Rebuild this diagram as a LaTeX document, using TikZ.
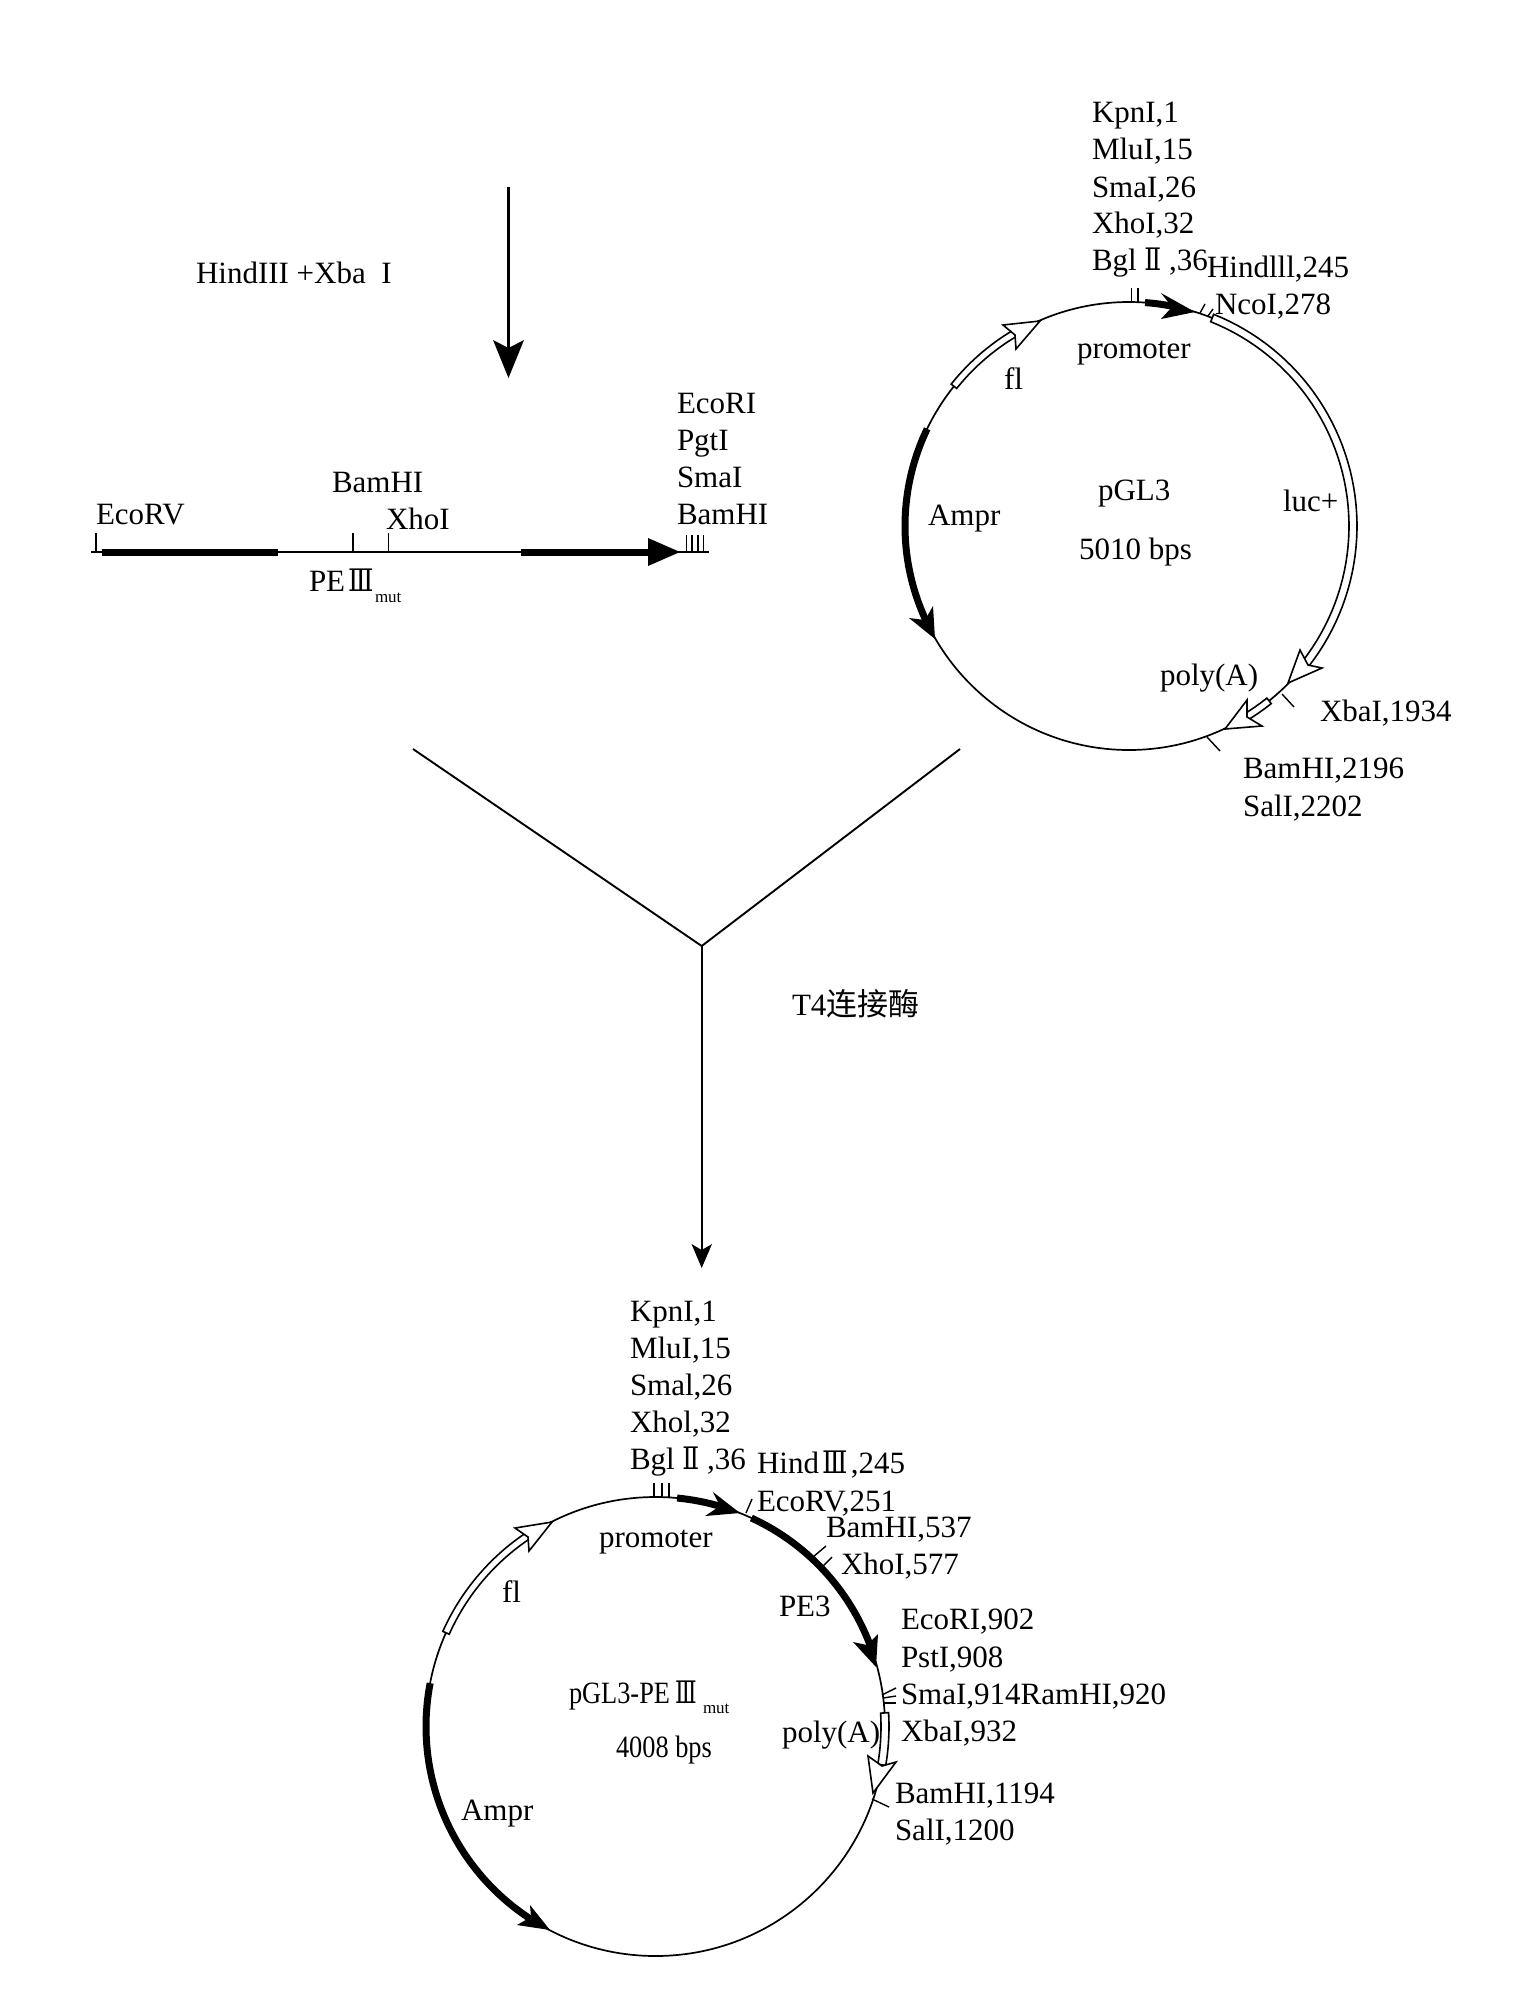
\documentclass[tikz,border=0pt]{standalone}
\usepackage{fontspec}
\setmainfont{Liberation Serif}
\newfontfamily\cjk{Noto Sans CJK SC}
\newfontfamily\rmfont{DejaVu Serif}
\newcommand{\rmII}{\kern7.5pt\scalebox{.8}[1]{\rmfont Ⅱ}\kern8pt}
\newcommand{\rmIII}{\kern3pt\scalebox{.85}[1]{\rmfont Ⅲ}\kern3.5pt}
% arc along a circle: [style]{cx}{cy}{r}{from}{to}
\newcommand{\ringarc}[6][]{\draw[#1] plot[domain=#5:#6,samples=50] ({#2+#4*cos(\x)},{#3-#4*sin(\x)});}
% closed ring band: [style]{cx}{cy}{r}{half width}{from}{to}
\newcommand{\ringband}[7][]{\draw[#1] plot[domain=#6:#7,samples=50] ({#2+(#4+#5)*cos(\x)},{#3-(#4+#5)*sin(\x)}) -- plot[domain=#7:#6,samples=50] ({#2+(#4-#5)*cos(\x)},{#3-(#4-#5)*sin(\x)}) -- cycle;}
\tikzset{
  x=1pt,y=-1pt,
  thinline/.style={line width=1.9pt,black},
  tick/.style={line width=1.4pt,black},
  thickarc/.style={line width=7pt,black},
  whiteband/.style={line width=1.6pt,black,fill=white,line join=miter},
  whitehead/.style={line width=1.6pt,black,fill=white,line join=miter},
  blackhead/.style={fill=black,draw=none},
  lab/.style={anchor=base west,inner sep=0pt,outer sep=0pt,font=\fontsize{31}{37}\selectfont,text=black},
  sublab/.style={anchor=base west,inner sep=0pt,outer sep=0pt,font=\fontsize{17}{20}\selectfont,text=black},
  plasmid/.style={circle,draw=black,line width=1.7pt,inner sep=0pt,outer sep=0pt},
}
\begin{document}
\begin{tikzpicture}
\useasboundingbox (0,0) rectangle (1536,1989);
\fill[white] (0,0) rectangle (1536,1989);

% --- top arrow and its label
\coordinate (topA) at (508.5,187);
\coordinate (topB) at (508.5,352);
\draw[line width=2.6pt,black] (topA) -- (topB);
\fill (508.5,378) -- (493,340) -- (508.5,348) -- (524,340) -- cycle;
\node[lab] (hx) at (196,283) {HindIII +Xba\ \ I};

% --- linear fragment
\coordinate (linL) at (91,552);
\coordinate (linR) at (709,552);
\draw[thinline] (linL) -- (linR);
\draw[thickarc] (101.5,552) -- (278,552);
\draw[thickarc] (521,552) -- (653,552);
\fill (680,552) -- (648,538) -- (648,566) -- cycle;
\draw[tick] (96,533) -- (96,552);
\draw[tick] (353,533) -- (353,552);
\draw[tick] (388.5,533) -- (388.5,552);
\foreach \tx in {686.5,692,698,703.5} \draw[tick] (\tx,535) -- (\tx,552);
\node[lab] (lEcoRV) at (96,524) {EcoRV};
\node[lab] (lBam) at (332,492) {BamHI};
\node[lab] (lXho) at (386,529) {XhoI};
\node[lab] (lPE) at (309,591) {PE\rmIII};
\node[sublab] (lmut) at (375,602) {mut};
\node[lab] (r1) at (677,413) {EcoRI};
\node[lab] (r2) at (677,450) {PgtI};
\node[lab] (r3) at (677,487) {SmaI};
\node[lab] (r4) at (677,524) {BamHI};

% --- plasmid pGL3
\node[plasmid,minimum size=448pt] (pA) at (1129,526) {};
% promoter
\ringarc[thickarc]{1129}{526}{224}{85.9}{78}
\fill[blackhead] (1195,312) -- (1161,293) -- (1172,307) -- (1161,319) -- cycle;
% luc+
\ringband[whiteband]{1129}{526}{224}{4}{68.2}{-37.8}
\draw[whitehead] (1288,683) -- (1300,650) -- (1308,665) -- (1322,668) -- cycle;
% poly(A)
\ringband[whiteband]{1129}{526}{224}{3.5}{-51.3}{-58.3}
\draw[whitehead] (1225,729) -- (1247,700) -- (1247,717) -- (1262,726) -- cycle;
% fl
\ringband[whiteband]{1129}{526}{224}{3.5}{141.4}{120.8}
\draw[whitehead] (1040,321) -- (1003,325) -- (1015,335) -- (1016,349) -- cycle;
% Ampr
\ringarc[thickarc]{1129}{526}{224}{154.3}{206}
\fill[blackhead] (935,639) -- (909,618) -- (925,620) -- (933,606) -- cycle;
% ticks
\draw[tick] (1131.7,302) -- (1131.7,288);
\draw[tick] (1138,302) -- (1138,288);
\draw[tick] (1200,313) -- (1205,304);
\draw[tick] (1208,316) -- (1213,309);
\draw[tick] (1282,694) -- (1294,707);
\draw[tick] (1207,737) -- (1220,751);
% labels
\node[lab] at (1092,122) {KpnI,1};
\node[lab] at (1092,159) {MluI,15};
\node[lab] at (1092,197) {SmaI,26};
\node[lab] at (1092,233) {XhoI,32};
\node[lab] at (1092,270) {Bgl\rmII,36};
\node[lab] at (1207,277) {Hindlll,245};
\node[lab] at (1215,314) {NcoI,278};
\node[lab] at (1077,358) {promoter};
\node[lab] at (1004,389) {fl};
\node[lab] at (1098,500) {pGL3};
\node[lab] at (1079,559) {5010 bps};
\node[lab] at (928,525) {Ampr};
\node[lab] at (1283,511) {luc+};
\node[lab] at (1160,685) {poly(A)};
\node[lab] at (1320,721) {XbaI,1934};
\node[lab] at (1243,778) {BamHI,2196};
\node[lab] at (1243,816) {SalI,2202};

% --- ligation fork
\coordinate (fa) at (413,749);
\coordinate (fb) at (960,749);
\coordinate (fc) at (701.7,946);
\coordinate (fd) at (701.7,1252);
\draw[thinline] (fa) -- (fc) -- (fb);
\draw[thinline] (fc) -- (fd);
\fill (701.7,1268) -- (691.5,1244) -- (701.7,1250) -- (712,1244) -- cycle;
\node[lab] (t4) at (792,1015) {T4{\cjk 连接酶}};

% --- plasmid pGL3-PE III mut
\node[plasmid,minimum size=459pt] (pB) at (655.5,1726.5) {};
% promoter
\ringarc[thickarc]{655.5}{1726.5}{229.5}{84.6}{73}
\fill[blackhead] (740,1513) -- (713,1492) -- (720,1506) -- (705,1516) -- cycle;
% PE3
\ringarc[thickarc]{655.5}{1726.5}{229.5}{65.3}{20}
\fill[blackhead] (876,1667) -- (853,1642) -- (867,1645) -- (878,1634) -- cycle;
% poly(A)
\ringband[whiteband]{655.5}{1726.5}{229.5}{4}{3.4}{-9.6}
\draw[whitehead] (873,1793) -- (868,1756) -- (882,1766) -- (896,1762) -- cycle;
% fl
\ringband[whiteband]{655.5}{1726.5}{229.5}{3.5}{155.9}{123.9}
\draw[whitehead] (552,1522) -- (515,1528) -- (528,1537) -- (529,1551) -- cycle;
% Ampr
\ringarc[thickarc]{655.5}{1726.5}{229.5}{169.1}{238}
\fill[blackhead] (550,1930) -- (517,1925) -- (531,1917) -- (530,1905) -- cycle;
% ticks
\foreach \tx in {654,662,669} \draw[tick] (\tx,1497) -- (\tx,1483);
\draw[tick] (746,1513) -- (752,1499);
\draw[tick] (813,1557) -- (826,1546);
\draw[tick] (822,1567) -- (832,1557);
\draw[tick] (882,1695) -- (896,1688);
\draw[tick] (883,1698) -- (896,1696);
\draw[tick] (883,1703) -- (896,1703);
\draw[tick] (872,1799) -- (889,1807);
% labels
\node[lab] at (630,1321) {KpnI,1};
\node[lab] at (630,1358) {MluI,15};
\node[lab] at (630,1395) {Smal,26};
\node[lab] at (630,1432) {Xhol,32};
\node[lab] at (630,1469) {Bgl\rmII,36};
\node[lab] at (757,1473) {Hind\rmIII,245};
\node[lab] at (757,1511) {EcoRV,251};
\node[lab] at (826,1537) {BamHI,537};
\node[lab] at (841,1574) {XhoI,577};
\node[lab] at (599,1547) {promoter};
\node[lab] at (502,1602) {fl};
\node[lab] at (779,1616) {PE3};
\node[lab] at (901,1629) {EcoRI,902};
\node[lab] at (901,1667) {PstI,908};
\node[lab] at (901,1704) {SmaI,914RamHI,920};
\node[lab] at (901,1741) {XbaI,932};
\node[lab] at (782,1742) {poly(A)};
\node[lab] at (895,1803) {BamHI,1194};
\node[lab] at (895,1840) {SalI,1200};
\node[lab] at (461,1820) {Ampr};
\node[lab] at (569,1703) {\scalebox{.85}[1]{pGL3-PE\kern3pt\rmIII}};
\node[sublab] at (703,1713) {mut};
\node[lab] at (616,1757) {\scalebox{.85}[1]{4008 bps}};
\end{tikzpicture}
\end{document}
